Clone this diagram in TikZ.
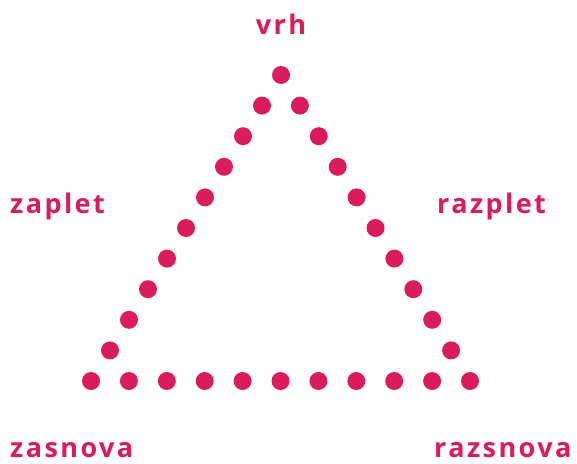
\documentclass[tikz,border=0pt]{standalone}
\usepackage{fontspec}
\setmainfont{Open Sans}
\newfontfamily\lblfont[LetterSpace=9]{Open Sans}
\usetikzlibrary{calc}
\definecolor{plotpink}{RGB}{218,28,92}

\begin{document}
\begin{tikzpicture}[
  x=1pt, y=1pt,
  dot/.style={circle, fill=plotpink, inner sep=0pt, minimum size=18pt},
  lbl/.style={text=plotpink, font=\lblfont\fontsize{27}{30}\selectfont\bfseries, inner sep=0pt}
]
\useasboundingbox (0,0) rectangle (577,-463);

% corners of the triangle
\coordinate (top) at (281,-75);
\coordinate (bl) at (91,-381);
\coordinate (br) at (470,-381);

% dots along the three sides
\foreach \i in {0,...,10} {
  \node[dot] (left\i) at ($(top)!\i/10!(bl)$) {};
}
\foreach \i in {1,...,10} {
  \node[dot] (right\i) at ($(top)!\i/10!(br)$) {};
}
\foreach \i in {1,...,9} {
  \node[dot] (base\i) at ($(bl)!\i/10!(br)$) {};
}

% labels
\node[lbl, anchor=base] (vrh) at (281,-34) {vrh};
\node[lbl, anchor=base west] (zaplet) at (10,-213) {zaplet};
\node[lbl, anchor=base west] (razplet) at (437,-213) {razplet};
\node[lbl, anchor=base west] (zasnova) at (10,-457) {zasnova};
\node[lbl, anchor=base west] (razsnova) at (434,-457) {razsnova};

\end{tikzpicture}
\end{document}
